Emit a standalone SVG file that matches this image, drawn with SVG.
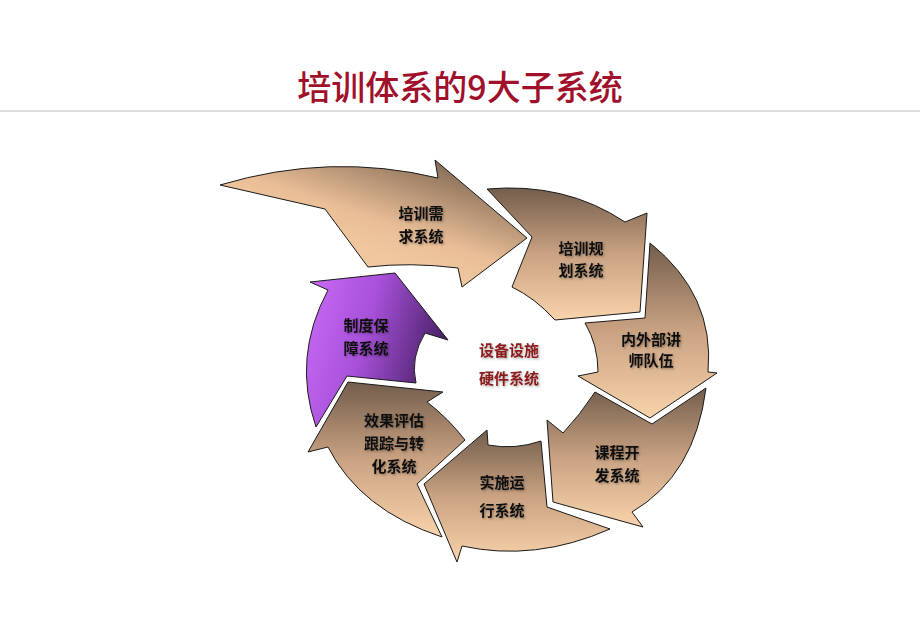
<svg xmlns="http://www.w3.org/2000/svg" width="920" height="626" viewBox="0 0 920 626">
<defs>
<linearGradient id="g1" x1="0.15" y1="0.9" x2="0.85" y2="0.05">
<stop offset="0" stop-color="#F8D3AB"/>
<stop offset="0.5" stop-color="#EABF97"/>
<stop offset="1" stop-color="#7A6350"/>
</linearGradient>
<linearGradient id="gv" x1="0" y1="0" x2="0" y2="1">
<stop offset="0" stop-color="#735D4C"/>
<stop offset="0.5" stop-color="#C9A282"/>
<stop offset="1" stop-color="#F8D3AB"/>
</linearGradient>
<linearGradient id="gp" x1="0" y1="0" x2="1" y2="0.3">
<stop offset="0" stop-color="#CB6CFA"/>
<stop offset="0.5" stop-color="#A650D8"/>
<stop offset="1" stop-color="#4A2268"/>
</linearGradient>
<filter id="ts" x="-20%" y="-20%" width="140%" height="140%">
<feDropShadow dx="1.2" dy="1.2" stdDeviation="0.8" flood-color="#000" flood-opacity="0.35"/>
</filter>
<style>
.ar{stroke:#1a1a1a;stroke-width:1;stroke-linejoin:miter}
.lb{font-family:"Noto Sans CJK SC","Noto Sans",sans-serif;font-size:15px;font-weight:bold;fill:#111;text-anchor:middle;filter:url(#ts)}
.cn{font-family:"Noto Sans CJK SC","Noto Sans",sans-serif;font-size:15px;font-weight:bold;fill:#8B1A1A;text-anchor:middle;filter:url(#ts)}
.tt{font-family:"Noto Sans CJK SC","Noto Sans",sans-serif;font-size:34px;font-weight:500;fill:#A0102A;text-anchor:middle}
</style>
</defs>
<rect width="920" height="626" fill="#fff"/>
<text class="tt" x="460" y="100">培训体系的9大子系统</text>
<line x1="0" y1="111" x2="920" y2="111" stroke="#DDDDDD" stroke-width="2"/>
<g id="connectors"></g>
<g id="n1">
<path class="ar" fill="url(#g1)" d="M220,185 Q330,152 438,178 L435,160 L527,238 L462,287 L458,268 Q410,262 368,267 L325,209 Z"/>
<text class="lb" x="421" y="219">培训需</text>
<text class="lb" x="421" y="242">求系统</text>
</g>
<g id="n2">
<path class="ar" fill="url(#gv)" d="M487,189 L532,237 L512,287 Q535,298 555,320 L640,312 L647,213 L625,222 Q565,182 487,189 Z"/>
<text class="lb" x="581" y="254">培训规</text>
<text class="lb" x="581" y="276">划系统</text>
</g>
<g id="n3">
<path class="ar" fill="url(#gv)" d="M650,243 L645,318 L585,323 Q598,345 598,372 L578,376 L650,418 L717,373 L708,372 Q715,295 650,243 Z"/>
<text class="lb" x="651" y="345">内外部讲</text>
<text class="lb" x="651" y="366">师队伍</text>
</g>
<g id="n4">
<path class="ar" fill="url(#gv)" d="M706,388 L652,424 L595,392 Q580,415 563,433 L547,420 L553,502 L643,527 L632,512 Q695,475 706,388 Z"/>
<text class="lb" x="617" y="458">课程开</text>
<text class="lb" x="617" y="481">发系统</text>
</g>
<g id="n5">
<path class="ar" fill="url(#gv)" d="M541,441 L547,507 L610,529 Q535,562 462,546 L457,562 L424,484 L487,430 L488,445 Q515,450 541,441 Z"/>
<text class="lb" x="502" y="488">实施运</text>
<text class="lb" x="502" y="516">行系统</text>
</g>
<g id="n6">
<path class="ar" fill="url(#gv)" d="M443,392 L427,402 Q448,418 465,440 L417,484 L442,537 Q360,510 328,447 L308,452 L348,382 Z"/>
<text class="lb" x="394" y="426">效果评估</text>
<text class="lb" x="394" y="449">跟踪与转</text>
<text class="lb" x="394" y="472">化系统</text>
</g>
<g id="n7">
<path class="ar" fill="url(#gp)" d="M395,273 L448,340 L425,333 Q410,358 416,383 L347,376 L316,427 Q292,357 328,290 L310,282 Z"/>
<text class="lb" x="366" y="331">制度保</text>
<text class="lb" x="366" y="354">障系统</text>
</g>
<g id="n8">
<text class="cn" x="509" y="356">设备设施</text>
<text class="cn" x="509" y="384">硬件系统</text>
</g>
</svg>
